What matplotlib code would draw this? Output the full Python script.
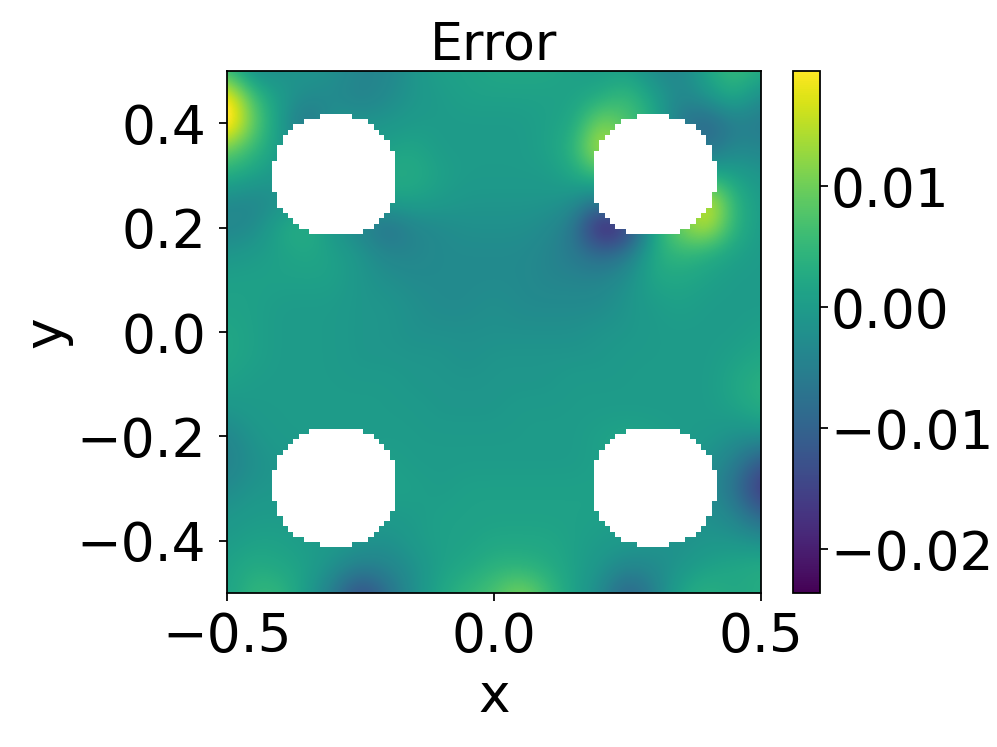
import numpy as np
import matplotlib
matplotlib.use("Agg")
import matplotlib.pyplot as plt
from matplotlib.ticker import FuncFormatter

plt.rcParams['font.size'] = 24

title = "Error"
x_nodes = [-0.5, -0.45, -0.4, -0.35, -0.3, -0.25, -0.2, -0.15, -0.1, -0.05, 0.0,
           0.05, 0.1, 0.15, 0.2, 0.25, 0.3, 0.35, 0.4, 0.45, 0.5]
y_nodes = [0.5, 0.45, 0.4, 0.35, 0.3, 0.25, 0.2, 0.15, 0.1, 0.05, 0.0,
           -0.05, -0.1, -0.15, -0.2, -0.25, -0.3, -0.35, -0.4, -0.45, -0.5]
# error field, in units of 1e-3 (rows follow y_nodes)
error_milli = [
    [5, -3, -2, -1, -2, -4, -4, -1, 1, 1, 2, 2, 2, 1, 0, 1, -3, -4, 2, 6, 3],
    [22, 6, 0, -3, -3, -5, -3, -1, 0, 1, 1, 1, 1, 1, 3, 6, 1, -4, -1, 3, -3],
    [24, 9, 0, -8, -1, -1, -1, 0, 0, 0, 0, 0, 1, 2, 12, 7, 3, -7, -10, -5, -6],
    [10, 5, 0, -3, 0, 0, 1, 2, 0, 0, 0, 0, 1, 4, 17, 10, 2, -3, -8, -3, -4],
    [3, 1, -1, 0, 0, 1, 3, 3, 1, 0, 0, 0, 0, 2, 6, 3, 0, 1, 3, 1, -1],
    [-3, -4, -2, 0, 0, -1, 1, 1, 0, -1, -1, -1, -1, -2, -7, 0, 4, 8, 19, 4, 0],
    [-4, -3, 2, 4, -1, -4, -8, -4, -3, -2, -2, -2, -3, -6, -22, -18, 2, 11, 16, 4, 0],
    [-1, 0, 1, 2, 1, -1, -4, -4, -3, -3, -3, -3, -4, -6, -9, -6, 3, 5, 3, 1, 0],
    [1, 1, 1, 1, 1, -1, -2, -3, -3, -3, -3, -3, -4, -4, -4, -2, 2, 2, 1, 0, 0],
    [1, 1, 0, 0, 0, -1, -1, -2, -3, -3, -2, -3, -3, -3, -3, -1, 0, 1, 0, 0, 0],
    [2, 1, 0, 0, 0, -1, -1, -2, -2, -2, -2, -2, -2, -2, -1, -1, 0, 0, 0, 0, 1],
    [2, 1, 0, 0, 0, -1, -1, -1, -1, -2, -1, -1, -1, -1, -1, 0, 0, 0, 0, 1, 2],
    [1, 0, 0, 0, 0, 0, 0, -1, -1, -1, -1, -1, -1, 0, 0, 0, 0, 0, 0, 2, 4],
    [-1, 0, 0, 0, 0, 0, 0, 0, -1, -1, -1, 0, 0, 0, 0, 0, 0, 0, 0, 1, 3],
    [-4, -1, 0, 0, 0, 0, 0, 0, 0, 0, 0, 0, 0, 0, 1, 2, 1, 0, 0, -2, -2],
    [-5, -2, -1, 0, 0, 0, 1, 0, 0, 0, 0, 0, 0, 0, 1, 1, 1, 0, -2, -5, -12],
    [-3, -1, -1, 0, 0, 0, 1, 1, 0, 1, 1, 1, 1, 1, 1, 0, 0, -1, -3, -7, -18],
    [-1, 0, 0, 0, 0, 0, 0, 0, 1, 1, 1, 1, 1, 1, 1, 0, 0, -1, -2, -4, -10],
    [0, 1, 1, 0, 0, -1, -2, 0, 1, 1, 2, 2, 2, 1, 0, 0, -1, -2, -1, -1, -2],
    [1, 3, 2, 1, -2, -5, -4, -2, 1, 2, 4, 4, 3, 1, -1, -4, -3, -1, 1, 2, 3],
    [1, 5, 5, 0, -6, -15, -8, -2, 2, 5, 7, 12, 6, 1, -3, -11, -5, 2, 4, 2, 3],
]
vmin, vmax = -0.0236, 0.0195
cbar_ticks = [-0.02, -0.01, 0.0, 0.01]
x_ticks = [-0.5, 0.0, 0.5]
y_ticks = [-0.4, -0.2, 0.0, 0.2, 0.4]

# the holes: for each row of the masked cells, first and end column
hole_spans = [(9, 15), (6, 18), (4, 19), (3, 20), (2, 21), (2, 22), (1, 22), (1, 23),
              (1, 23), (0, 23), (0, 23), (0, 23), (0, 23), (0, 23), (0, 23), (1, 23),
              (1, 23), (1, 22), (2, 22), (3, 21), (4, 20), (5, 19), (7, 17)]
# left, right, bottom, top of each hole, and whether it is mirrored in x / y
holes = [(-0.4148, -0.1854, 0.1877, 0.4157, False, False),
         (0.1873, 0.4176, 0.1877, 0.4157, True, False),
         (-0.4148, -0.1854, -0.4110, -0.1860, False, True),
         (0.1873, 0.4176, -0.4110, -0.1860, True, True)]

W, H, DPI = 997, 747, 160
fig = plt.figure(figsize=(W / DPI, H / DPI), dpi=DPI)
ax = fig.add_axes([227 / W, (H - 593) / H, 534 / W, 522 / H])
cax = fig.add_axes([793 / W, (H - 593) / H, 27 / W, 522 / H])

z = np.array(error_milli, dtype=float) * 1e-3
dx = x_nodes[1] - x_nodes[0]
dy = y_nodes[0] - y_nodes[1]
im = ax.imshow(z, cmap='viridis', vmin=vmin, vmax=vmax, aspect='auto',
               interpolation='bicubic', interpolation_stage='data',
               extent=[x_nodes[0] - dx / 2, x_nodes[-1] + dx / 2,
                       y_nodes[-1] - dy / 2, y_nodes[0] + dy / 2])

base = np.zeros((len(hole_spans), 23, 4))
base[..., :3] = 1.0
for r, (a, b) in enumerate(hole_spans):
    base[r, a:b, 3] = 1.0
for left, right, bottom, top, flip_x, flip_y in holes:
    m = base
    if flip_x:
        m = m[:, ::-1]
    if flip_y:
        m = m[::-1]
    ax.imshow(m, extent=[left, right, bottom, top], aspect='auto',
              interpolation='nearest', zorder=3)

ax.set_xlim(-0.5, 0.5)
ax.set_ylim(-0.5, 0.5)
ax.set_xticks(x_ticks)
ax.set_yticks(y_ticks)
ax.tick_params(axis='y', pad=5.8)
ax.tick_params(axis='x', pad=4.8)
ax.set_xlabel('x', labelpad=3.5)
ax.set_ylabel('y', labelpad=1.8)
ax.set_title(title, pad=4, fontsize=23.5)
fig.colorbar(im, cax=cax, ticks=cbar_ticks,
             format=FuncFormatter(lambda v, _: f'{v:.2f}'.replace('-', '\u2212')))
cax.tick_params(pad=1.3)
fig.savefig('out.png', dpi=DPI)
